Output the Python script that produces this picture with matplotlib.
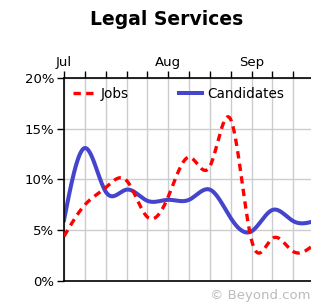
import numpy as np
import matplotlib
matplotlib.use("Agg")
import matplotlib.pyplot as plt

# weekly share of listings (%), week 0 = start of Jul
weeks = list(range(13))
jobs = [4.4, 7.5, 9.2, 9.9, 6.3, 8.3, 12.2, 11.3, 15.9, 4.0, 4.2, 2.9, 3.6]
candidates = [6.0, 13.1, 8.8, 9.0, 7.9, 8.0, 8.0, 9.0, 6.2, 4.9, 7.0, 5.9, 5.9]
month_labels = ["Jul", "Aug", "Sep"]
month_weeks = [0, 5, 9]
y_ticks = [0, 5, 10, 15, 20]


def smooth(x, y, n=400):
    # natural cubic spline, only for drawing the curve
    x = np.asarray(x, float)
    y = np.asarray(y, float)
    k = len(x)
    h = np.diff(x)
    A = np.zeros((k, k))
    b = np.zeros(k)
    A[0, 0] = A[-1, -1] = 1
    for i in range(1, k - 1):
        A[i, i - 1] = h[i - 1]
        A[i, i] = 2 * (h[i - 1] + h[i])
        A[i, i + 1] = h[i]
        b[i] = 3 * ((y[i + 1] - y[i]) / h[i] - (y[i] - y[i - 1]) / h[i - 1])
    c = np.linalg.solve(A, b)
    xs = np.linspace(x[0], x[-1], n)
    idx = np.clip(np.searchsorted(x, xs) - 1, 0, k - 2)
    dx = xs - x[idx]
    bb = (y[idx + 1] - y[idx]) / h[idx] - h[idx] * (2 * c[idx] + c[idx + 1]) / 3
    d = (c[idx + 1] - c[idx]) / (3 * h[idx])
    return xs, y[idx] + bb * dx + c[idx] * dx ** 2 + d * dx ** 3


plt.rcParams["font.family"] = "DejaVu Sans"
fig = plt.figure(figsize=(3.11, 3.04), dpi=100)
ax = fig.add_axes([0.2058, 0.0757, 0.7942, 0.6677])

xj, yj = smooth(weeks, jobs)
xc, yc = smooth(weeks, candidates)
ax.plot(xj, yj, color="#ff0000", lw=2.4, dashes=(2.2, 1.6), label="Jobs", zorder=3)
ax.plot(xc, yc, color="#4444cc", lw=2.9, label="Candidates", zorder=2)

ax.set_xlim(0, 11.85)
ax.set_ylim(0, 20)
ax.set_xticks(weeks[:12])
ax.set_xticklabels(["" for _ in weeks[:12]])
ax.set_yticks(y_ticks)
ax.set_yticklabels([f"{v}%" for v in y_ticks], fontsize=9.5)
ax.xaxis.tick_top()
ax.tick_params(axis="x", direction="out", length=5, width=1, pad=1)
ax.tick_params(axis="y", direction="out", length=5, width=1, pad=2)
ax.grid(True, color="#cccccc", lw=1)
ax.set_axisbelow(True)
for s in ["left", "top", "bottom"]:
    ax.spines[s].set_color("black")
    ax.spines[s].set_linewidth(1.2)
ax.spines["right"].set_visible(False)

for lab, w in zip(month_labels, month_weeks):
    ax.text(w, 20.9, lab, ha="center", va="bottom", fontsize=9.5)

ax.legend(loc="upper left", bbox_to_anchor=(0.0, 1.0), ncol=2, frameon=False,
          fontsize=9.8, handlelength=1.7, handletextpad=0.35, columnspacing=3.7,
          borderaxespad=0.35, borderpad=0.3)

fig.text(0.535, 0.967, "Legal Services", ha="center", va="top",
         fontsize=13.5, fontweight="bold")
fig.text(1.0, 0.005, "© Beyond.com", ha="right", va="bottom",
         fontsize=9.5, color="#bbbbbb")

fig.savefig("out.png", dpi=100)
